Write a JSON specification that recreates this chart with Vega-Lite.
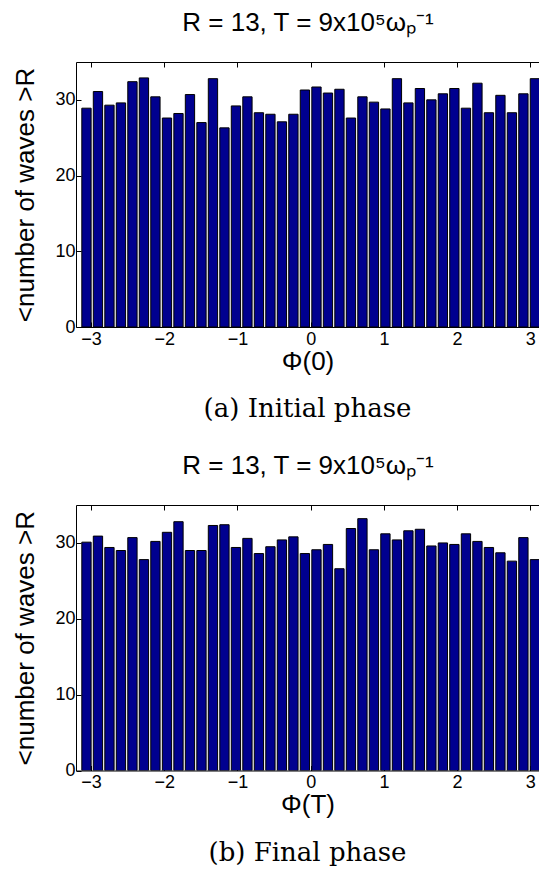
{
  "$schema": "https://vega.github.io/schema/vega-lite/v6.json",
  "autosize": {"type": "pad"},
  "padding": {"left": 12, "top": 9, "right": 0, "bottom": 0},
  "background": "white",
  "spacing": 178,
  "bounds": "flush",
  "config": {
    "view": {"stroke": null},
    "font": "Liberation Sans",
    "axis": {
      "domainColor": "black", "domainWidth": 1,
      "tickColor": "black", "tickSize": -5, "tickWidth": 1,
      "labelColor": "black", "labelFont": "Liberation Sans", "labelFontSize": 18,
      "titleColor": "black", "titleFont": "Liberation Sans", "titleFontWeight": "normal",
      "grid": false
    }
  },
  "datasets": {
    "initial": [
      {"phi": -3.063, "count": 28.9}, {"phi": -2.906, "count": 31.1}, {"phi": -2.749, "count": 29.3}, {"phi": -2.592, "count": 29.6},
      {"phi": -2.435, "count": 32.4}, {"phi": -2.278, "count": 32.9}, {"phi": -2.121, "count": 30.4}, {"phi": -1.963, "count": 27.6},
      {"phi": -1.806, "count": 28.2}, {"phi": -1.649, "count": 30.7}, {"phi": -1.492, "count": 27.0}, {"phi": -1.335, "count": 32.8},
      {"phi": -1.178, "count": 26.3}, {"phi": -1.021, "count": 29.2}, {"phi": -0.864, "count": 30.4}, {"phi": -0.707, "count": 28.3},
      {"phi": -0.550, "count": 28.1}, {"phi": -0.393, "count": 27.1}, {"phi": -0.236, "count": 28.1}, {"phi": -0.079, "count": 31.3},
      {"phi": 0.079, "count": 31.7}, {"phi": 0.236, "count": 30.9}, {"phi": 0.393, "count": 31.4}, {"phi": 0.550, "count": 27.6},
      {"phi": 0.707, "count": 30.4}, {"phi": 0.864, "count": 29.7}, {"phi": 1.021, "count": 28.8}, {"phi": 1.178, "count": 32.8},
      {"phi": 1.335, "count": 29.6}, {"phi": 1.492, "count": 31.5}, {"phi": 1.649, "count": 30.0}, {"phi": 1.806, "count": 30.8},
      {"phi": 1.963, "count": 31.5}, {"phi": 2.121, "count": 28.9}, {"phi": 2.278, "count": 32.2}, {"phi": 2.435, "count": 28.3},
      {"phi": 2.592, "count": 30.6}, {"phi": 2.749, "count": 28.3}, {"phi": 2.906, "count": 30.8}, {"phi": 3.063, "count": 32.8}
    ],
    "final": [
      {"phi": -3.063, "count": 30.1}, {"phi": -2.906, "count": 30.9}, {"phi": -2.749, "count": 29.4}, {"phi": -2.592, "count": 29.0},
      {"phi": -2.435, "count": 30.7}, {"phi": -2.278, "count": 27.8}, {"phi": -2.121, "count": 30.2}, {"phi": -1.963, "count": 31.4},
      {"phi": -1.806, "count": 32.8}, {"phi": -1.649, "count": 29.0}, {"phi": -1.492, "count": 29.0}, {"phi": -1.335, "count": 32.3},
      {"phi": -1.178, "count": 32.4}, {"phi": -1.021, "count": 29.4}, {"phi": -0.864, "count": 30.6}, {"phi": -0.707, "count": 28.6},
      {"phi": -0.550, "count": 29.5}, {"phi": -0.393, "count": 30.4}, {"phi": -0.236, "count": 30.8}, {"phi": -0.079, "count": 28.6},
      {"phi": 0.079, "count": 29.1}, {"phi": 0.236, "count": 29.8}, {"phi": 0.393, "count": 26.6}, {"phi": 0.550, "count": 31.9},
      {"phi": 0.707, "count": 33.2}, {"phi": 0.864, "count": 29.1}, {"phi": 1.021, "count": 31.2}, {"phi": 1.178, "count": 30.4},
      {"phi": 1.335, "count": 31.6}, {"phi": 1.492, "count": 31.8}, {"phi": 1.649, "count": 29.6}, {"phi": 1.806, "count": 30.0},
      {"phi": 1.963, "count": 29.8}, {"phi": 2.121, "count": 31.2}, {"phi": 2.278, "count": 30.2}, {"phi": 2.435, "count": 29.4},
      {"phi": 2.592, "count": 28.7}, {"phi": 2.749, "count": 27.6}, {"phi": 2.906, "count": 30.7}, {"phi": 3.063, "count": 27.8}
    ]
  },
  "vconcat": [
    {
      "width": 463, "height": 265,
      "data": {"name": "initial"},
      "title": {"text": "(a) Initial phase", "orient": "bottom", "anchor": "middle", "font": "DejaVu Serif", "fontSize": 26, "fontWeight": "normal", "color": "black", "offset": 22},
      "layer": [
        {
          "mark": {"type": "bar", "width": 9.3, "fill": "#00008F", "stroke": "black", "strokeWidth": 1, "clip": true},
          "encoding": {
            "x": {"field": "phi", "type": "quantitative", "scale": {"domain": [-3.206, 3.119], "nice": false, "zero": false, "padding": 0},
                  "axis": {"orient": "bottom", "values": [-3, -2, -1, 0, 1, 2, 3], "title": "Φ(0)", "titleFontSize": 26, "labelPadding": 8, "titlePadding": 0}},
            "y": {"field": "count", "type": "quantitative", "scale": {"domain": [0, 35], "nice": false},
                  "axis": {"values": [0, 10, 20, 30], "title": "<number of waves >R", "titleFontSize": 26, "labelPadding": 6, "titlePadding": 16}}
          }
        },
        {
          "mark": {"type": "tick", "opacity": 0},
          "encoding": {
            "x": {"field": "phi", "type": "quantitative",
                  "axis": {"orient": "top", "values": [-3, -2, -1, 0, 1, 2, 3], "labels": false, "title": "R = 13, T = 9x10⁵ωₚ⁻¹", "titleFontSize": 26, "titlePadding": 26}}
          }
        }
      ],
      "resolve": {"axis": {"x": "independent"}}
    },
    {
      "width": 463, "height": 265.5,
      "data": {"name": "final"},
      "title": {"text": "(b) Final phase", "orient": "bottom", "anchor": "middle", "font": "DejaVu Serif", "fontSize": 26, "fontWeight": "normal", "color": "black", "offset": 22},
      "layer": [
        {
          "mark": {"type": "bar", "width": 9.3, "fill": "#00008F", "stroke": "black", "strokeWidth": 1, "clip": true},
          "encoding": {
            "x": {"field": "phi", "type": "quantitative", "scale": {"domain": [-3.206, 3.119], "nice": false, "zero": false, "padding": 0},
                  "axis": {"orient": "bottom", "values": [-3, -2, -1, 0, 1, 2, 3], "title": "Φ(T)", "titleFontSize": 26, "labelPadding": 8, "titlePadding": 0}},
            "y": {"field": "count", "type": "quantitative", "scale": {"domain": [0, 35], "nice": false},
                  "axis": {"values": [0, 10, 20, 30], "title": "<number of waves >R", "titleFontSize": 26, "labelPadding": 6, "titlePadding": 16}}
          }
        },
        {
          "mark": {"type": "tick", "opacity": 0},
          "encoding": {
            "x": {"field": "phi", "type": "quantitative",
                  "axis": {"orient": "top", "values": [-3, -2, -1, 0, 1, 2, 3], "labels": false, "title": "R = 13, T = 9x10⁵ωₚ⁻¹", "titleFontSize": 26, "titlePadding": 26}}
          }
        }
      ],
      "resolve": {"axis": {"x": "independent"}}
    }
  ]
}
